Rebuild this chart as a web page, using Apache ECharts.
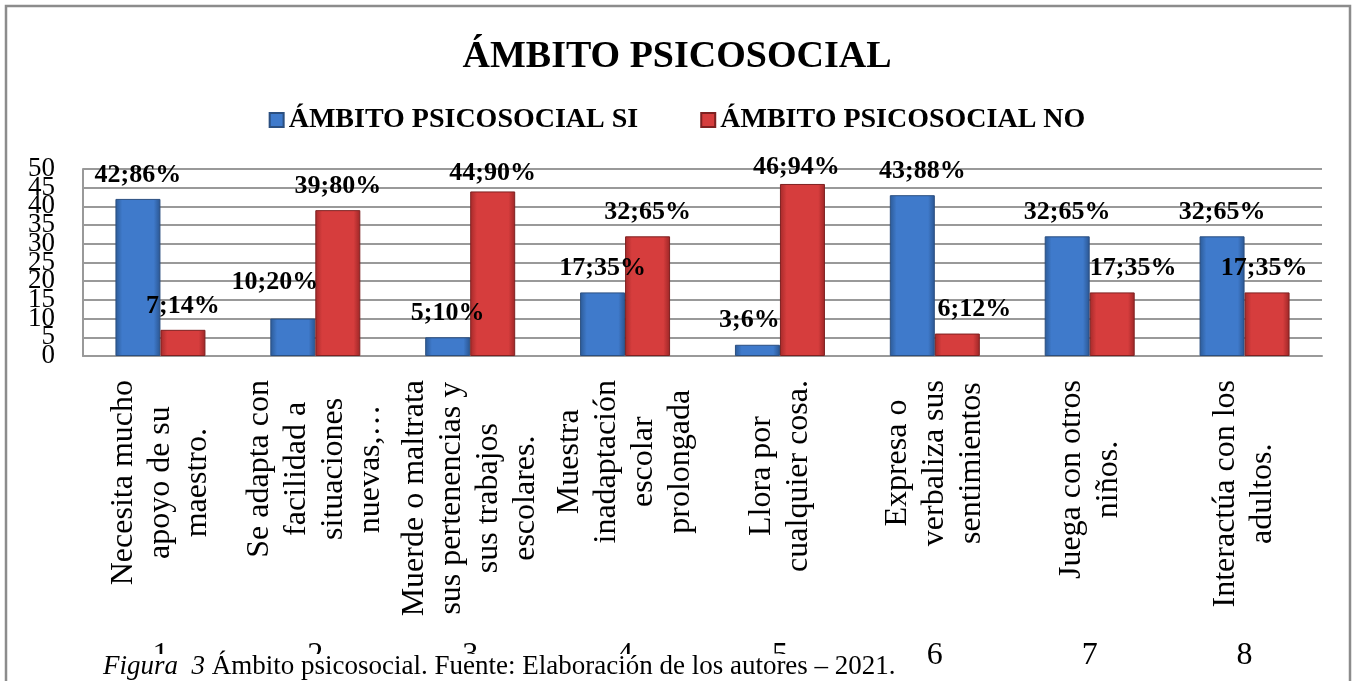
<!DOCTYPE html>
<html>
<head>
<meta charset="utf-8">
<title>Ámbito psicosocial</title>
<script src="https://cdn.jsdelivr.net/npm/echarts@6/dist/echarts.min.js"></script>
<style>
  html, body { margin: 0; padding: 0; background: #fff; }
  #chart { width: 1354px; height: 681px; }
</style>
</head>
<body>
<div id="chart"></div>
<script>
// datos
const categoryLines = [
  ['Necesita mucho', 'apoyo de su', 'maestro.'],
  ['Se adapta con', 'facilidad a', 'situaciones', 'nuevas,…'],
  ['Muerde o maltrata', 'sus pertenencias y', 'sus trabajos', 'escolares.'],
  ['Muestra', 'inadaptación', 'escolar', 'prolongada'],
  ['Llora por', 'cualquier cosa.'],
  ['Expresa o', 'verbaliza sus', 'sentimientos'],
  ['Juega con otros', 'niños.'],
  ['Interactúa con los', 'adultos.']
];
const itemNumbers = ['1', '2', '3', '4', '5', '6', '7', '8'];
const siValues = [42, 10, 5, 17, 3, 43, 32, 32];
const siPercent = [86, 20, 10, 35, 6, 88, 65, 65];
const noValues = [7, 39, 44, 32, 46, 6, 17, 17];
const noPercent = [14, 80, 90, 65, 94, 12, 35, 35];

// desplazamientos manuales de etiquetas (como en el original de Excel)
const siLabelShift = [[0, 0], [-18, -12], [0, 0], [0, 0], [-8, 0], [10, 0], [0, 0], [0, 0]];
const noLabelShift = [[0, 0], [0, 0], [0, 6], [0, 0], [-6, 7], [17, 0], [21, 0], [-3, 0]];

const serif = "'Liberation Serif', 'Times New Roman', serif";

const chart = echarts.init(document.getElementById('chart'));

const barGradient = (edge, body, edge2) => ({
  type: 'linear', x: 0, y: 0, x2: 1, y2: 0,
  colorStops: [
    { offset: 0, color: edge },
    { offset: 0.15, color: body },
    { offset: 0.85, color: body },
    { offset: 1, color: edge2 }
  ]
});

const buildData = (values, shifts) =>
  values.map((v, i) => ({ value: v, label: { offset: shifts[i] } }));

// las etiquetas del eje Y se solapan en el original: se reparten en dos ejes
// (múltiplos de 10 en uno, el resto en otro) para que ECharts no oculte ninguna
const yLabelStyle = {
  margin: 28,
  showMinLabel: true,
  showMaxLabel: true,
  fontFamily: serif,
  fontSize: 27,
  color: '#000'
};

const option = {
  backgroundColor: '#fff',
  animation: false,
  title: {
    text: 'ÁMBITO PSICOSOCIAL',
    left: 'center',
    top: 33,
    textStyle: { fontFamily: serif, fontSize: 38, fontWeight: 'bold', color: '#000' }
  },
  legend: {
    top: 101,
    left: 'center',
    itemWidth: 14,
    itemHeight: 14,
    itemGap: 62,
    icon: 'rect',
    textStyle: { fontFamily: serif, fontSize: 28, fontWeight: 'bold', color: '#000' }
  },
  grid: {
    left: 83,
    right: 32,
    top: 169,
    bottom: 325,
    outerBoundsMode: 'none'
  },
  xAxis: [
    {
      type: 'category',
      data: categoryLines.map(l => l.join(' ')),
      axisLine: { lineStyle: { color: '#999', width: 2 } },
      axisTick: { interval: 0, length: 314, lineStyle: { color: '#999', width: 2 } },
      axisLabel: {
        interval: 0,
        rotate: 90,
        margin: 24,
        formatter: (v, i) => categoryLines[i].map(l => '{c|' + l + '}').join('\n'),
        rich: {
          c: { align: 'center', fontFamily: serif, fontSize: 32, lineHeight: 37, color: '#000' }
        }
      }
    },
    {
      type: 'category',
      position: 'bottom',
      data: itemNumbers,
      axisLine: { show: false },
      axisTick: { show: false },
      axisLabel: { interval: 0, margin: 284, fontFamily: serif, fontSize: 32, color: '#000' }
    }
  ],
  yAxis: [
    {
      type: 'value',
      position: 'left',
      min: 0,
      max: 50,
      interval: 5,
      axisLine: { show: true, lineStyle: { color: '#999', width: 2 } },
      axisTick: { show: false },
      splitLine: { lineStyle: { color: '#999', width: 2 } },
      axisLabel: Object.assign({}, yLabelStyle, {
        formatter: v => (v % 10 === 0 ? String(v) : '')
      })
    },
    {
      type: 'value',
      position: 'left',
      min: 0,
      max: 50,
      interval: 5,
      axisLine: { show: false },
      axisTick: { show: false },
      splitLine: { show: false },
      axisLabel: Object.assign({}, yLabelStyle, {
        formatter: v => (v % 10 === 5 ? String(v) : '')
      })
    }
  ],
  series: [
    {
      name: 'ÁMBITO PSICOSOCIAL SI',
      type: 'bar',
      xAxisIndex: 0,
      yAxisIndex: 0,
      barWidth: 45,
      barGap: '0%',
      data: buildData(siValues, siLabelShift),
      itemStyle: {
        color: barGradient('#2c5a96', '#3f7acb', '#2a5590'),
        borderColor: '#2b4f80',
        borderWidth: 1
      },
      label: {
        show: true,
        position: 'top',
        distance: 11,
        fontFamily: serif,
        fontSize: 26,
        fontWeight: 'bold',
        color: '#000',
        formatter: p => p.value + ';' + siPercent[p.dataIndex] + '%'
      }
    },
    {
      name: 'ÁMBITO PSICOSOCIAL NO',
      type: 'bar',
      xAxisIndex: 0,
      yAxisIndex: 0,
      barWidth: 45,
      barGap: '0%',
      data: buildData(noValues, noLabelShift),
      itemStyle: {
        color: barGradient('#a52a2a', '#d63d3d', '#9c2626'),
        borderColor: '#7e2020',
        borderWidth: 1
      },
      label: {
        show: true,
        position: 'top',
        distance: 11,
        fontFamily: serif,
        fontSize: 26,
        fontWeight: 'bold',
        color: '#000',
        formatter: p => p.value + ';' + noPercent[p.dataIndex] + '%'
      }
    }
  ],
  graphic: [
    {
      type: 'rect',
      z: 50,
      shape: { x: 6, y: 6, width: 1344, height: 690 },
      style: { fill: 'none', stroke: '#8c8c8c', lineWidth: 2.5 }
    },
    {
      type: 'rect',
      z: 60,
      shape: { x: 8, y: 654, width: 895, height: 30 },
      style: { fill: '#fff' }
    },
    {
      type: 'text',
      z: 61,
      x: 103,
      y: 667,
      style: {
        text: '{i|Figura  3} Ámbito psicosocial. Fuente: Elaboración de los autores – 2021.',
        fontFamily: serif,
        fontSize: 27,
        fill: '#000',
        verticalAlign: 'middle',
        rich: { i: { fontStyle: 'italic', fontFamily: serif, fontSize: 27 } }
      }
    }
  ]
};

chart.setOption(option);
</script>
</body>
</html>
